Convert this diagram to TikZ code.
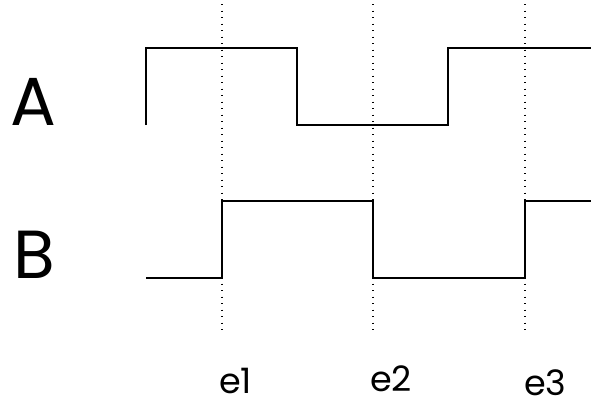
\documentclass[tikz,border=0pt]{standalone}
\usepackage{fontspec}
\setmainfont{Poppins}
\begin{document}
\begin{tikzpicture}[x=1pt,y=-1pt,
  wave/.style={line width=1.6pt,line join=miter},
  marker/.style={line width=1.2pt,dash pattern=on 1.1pt off 5.4pt},
  signame/.style={inner sep=0pt,anchor=base west,font=\fontsize{68}{68}\selectfont},
  evname/.style={inner sep=0pt,anchor=base west,font=\fontsize{35}{35}\selectfont}]
\useasboundingbox (0,0) rectangle (591,400);
% signal labels
\node[signame] (lA) at (10,125) {A};
\node[signame] (lB) at (13,278) {B};
% event markers
\coordinate (t1top) at (222,4);  \coordinate (t1bot) at (222,330);
\coordinate (t2top) at (373,4);  \coordinate (t2bot) at (373,330);
\coordinate (t3top) at (525,4);  \coordinate (t3bot) at (525,330);
\draw[marker] (t1top) -- (t1bot);
\draw[marker] (t2top) -- (t2bot);
\draw[marker] (t3top) -- (t3bot);
% event labels
\node[evname] (e1) at (219,393) {e1};
\node[evname] (e2) at (370,391) {e2};
\node[evname] (e3) at (524,395) {e3};
% waveform A
\draw[wave] (146,125) -- (146,48) -- (297,48) -- (297,125) -- (448,125) -- (448,48) -- (591,48);
% waveform B
\draw[wave] (146,278) -- (222,278) -- (222,201) -- (373,201) -- (373,278) -- (525,278) -- (525,201) -- (591,201);
\end{tikzpicture}
\end{document}
